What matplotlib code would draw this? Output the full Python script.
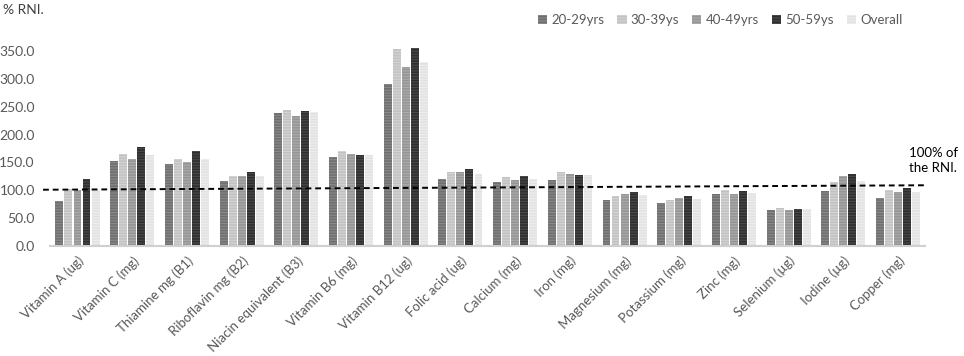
import numpy as np
import matplotlib
matplotlib.use("Agg")
import matplotlib.pyplot as plt

plt.rcParams['font.family'] = ['Lato', 'DejaVu Sans']
plt.rcParams['hatch.linewidth'] = 0.8

# nutrients on the x axis
nutrients = ["Vitamin A (ug)", "Vitamin C (mg)", "Thiamine mg (B1)", "Riboflavin mg (B2)",
             "Niacin equivalent (B3)", "Vitamin B6 (mg)", "Vitamin B12 (ug)", "Folic acid (ug)",
             "Calcium (mg)", "Iron (mg)", "Magnesium (mg)", "Potassium (mg)", "Zinc (mg)",
             "Selenium (\u00b5g)", "Iodine (\u00b5g)", "Copper (mg)"]

# % RNI per age group
age_20_29 = [81, 152, 148, 116, 239, 160, 290, 121, 114, 119, 83, 77, 93, 65, 98, 87]
age_30_39 = [102, 166, 157, 126, 244, 170, 354, 132, 123, 132, 90, 82, 100, 69, 114, 100]
age_40_49 = [101, 156, 150, 126, 233, 165, 322, 132, 118, 130, 93, 86, 94, 65, 126, 97]
age_50_59 = [121, 177, 170, 132, 243, 163, 356, 138, 125, 128, 97, 90, 98, 67, 129, 104]
overall = [100, 163, 156, 125, 240, 164, 330, 130, 120, 127, 91, 84, 96, 67, 117, 97]

series_names = ["20-29yrs", "30-39ys", "40-49yrs", "50-59ys", "Overall"]
series_vals = [age_20_29, age_30_39, age_40_49, age_50_59, overall]
face_cols = ["#6f6f6f", "#c2c2c2", "#959595", "#2f2f2f", "#e2e2e2"]
stripe_cols = ["#8a8a8a", "#d4d4d4", "#acacac", "#4a4a4a", "#eeeeee"]

# dashed "100% of the RNI." reference line (slightly tilted in the original)
ref_left, ref_right = 101, 109

fig = plt.figure(figsize=(9.64, 3.56), dpi=100)
ax = fig.add_axes([0.052, 0.309, 0.908, 0.579])

x = np.arange(len(nutrients))
step = 0.165
width = 0.145
for i, (name, vals) in enumerate(zip(series_names, series_vals)):
    ax.bar(x + (i - 2) * step, vals, width, color=face_cols[i], edgecolor=stripe_cols[i],
           linewidth=0, hatch='------', label=name)

ax.plot([-0.63, 15.5], [ref_left, ref_right], color='black', lw=1.4,
        dashes=(3, 2), clip_on=False)
ax.text(15.2, 130, "100% of\nthe RNI.", fontsize=9.5, color='black', ha='left', va='bottom',
        linespacing=1.25)

ax.set_xlim(-0.5, 15.5)
ax.set_ylim(0, 370)
ax.set_yticks(np.arange(0, 351, 50))
ax.set_yticklabels([f"{v:.1f}" for v in np.arange(0, 351, 50)])
ax.set_xticks(x)
ax.set_xticklabels(nutrients, rotation=45, ha='right', rotation_mode='anchor')

for s in ['top', 'right', 'left']:
    ax.spines[s].set_visible(False)
ax.spines['bottom'].set_color('#d0d0d0')
ax.spines['bottom'].set_linewidth(1.5)
ax.tick_params(axis='y', length=0, labelsize=10, labelcolor='#595959', pad=11)
ax.tick_params(axis='x', length=0, labelsize=9.5, labelcolor='#595959', pad=6)

fig.text(0.003, 0.972, "% RNI.", fontsize=10, color='#404040', ha='left', va='center')

fig.legend(loc='center', bbox_to_anchor=(0.747, 0.944), ncol=5, frameon=False,
           fontsize=9.5, handlelength=0.7, handleheight=0.7, handletextpad=0.3,
           columnspacing=1.0, labelcolor='#595959')

fig.savefig("out.png", dpi=100)
